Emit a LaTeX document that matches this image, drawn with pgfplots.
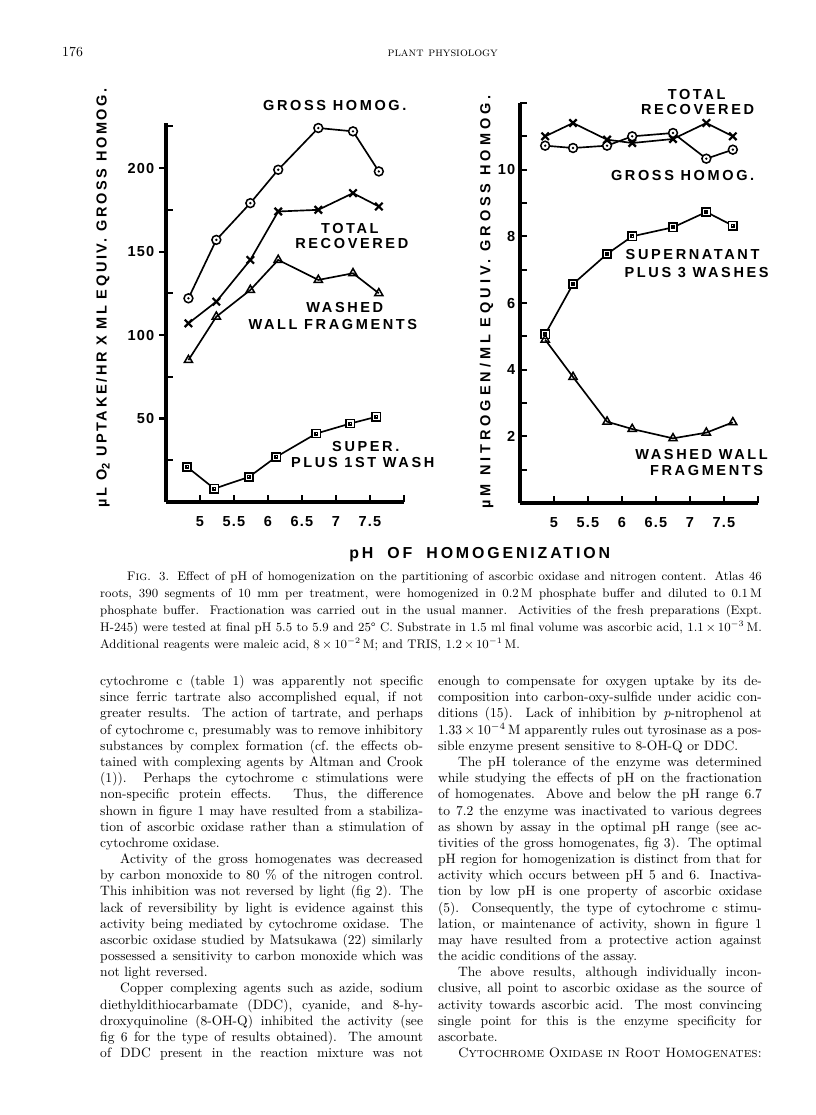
\documentclass[border=0pt]{standalone}
\usepackage{fontspec}
\usepackage{pgfplots}
\pgfplotsset{compat=1.18}

\newfontfamily\lettering[LetterSpace=18]{Liberation Sans}
\newfontfamily\tickfont[LetterSpace=8]{Liberation Sans}
\newcommand\LT{\lettering\bfseries\fontsize{10.5}{12}\selectfont}
\newcommand\TL{\tickfont\bfseries\fontsize{10.5}{12}\selectfont}

\newdimen\px \px=0.01in
\newdimen\colw
\newcommand\JL[1]{\hbox to \colw{#1}}
\newcommand\LL[1]{\hbox to \colw{#1\hfil}}
\newcommand\IN{\hskip 20\px}

% open marks with a dot in the middle
\pgfdeclareplotmark{codot}{%
  \pgfsetfillcolor{white}%
  \pgfpathcircle{\pgfpointorigin}{\pgfplotmarksize}%
  \pgfusepathqfillstroke
  \pgfsetfillcolor{black}%
  \pgfpathcircle{\pgfpointorigin}{0.3\pgfplotmarksize}%
  \pgfusepathqfill}
\pgfdeclareplotmark{sqdot}{%
  \pgfsetfillcolor{white}%
  \pgfpathrectanglecorners{\pgfpoint{-\pgfplotmarksize}{-\pgfplotmarksize}}{\pgfpoint{\pgfplotmarksize}{\pgfplotmarksize}}%
  \pgfusepathqfillstroke
  \pgfpathrectanglecorners{\pgfpoint{-0.3\pgfplotmarksize}{-0.3\pgfplotmarksize}}{\pgfpoint{0.3\pgfplotmarksize}{0.3\pgfplotmarksize}}%
  \pgfusepathqstroke}

\pgfplotsset{
  pageaxis/.style={scale only axis, xmin=4.5, xmax=8, ymin=0,
    axis lines=left, axis line style={-, line width=2.2pt},
    tick style={black, line width=1.5pt}, major tick length=0.07in,
    tick align=inside,
    xtick={5,5.5,6,6.5,7,7.5,8}, xticklabels={5,5.5,6,6.5,7,7.5,},
    tick label style={font=\TL},
    xticklabel style={yshift=-0.09in, text height=7.5pt, text depth=0pt},
    clip=false},
  ser/.style={black, line width=1.2pt, mark options={solid, fill=white, line width=1.1pt}},
}

\begin{document}
\begin{tikzpicture}
\fill[white] (0,0) rectangle (8.16in,-11.15in);
\useasboundingbox (0,0) rectangle (8.16in,-11.15in);

% left panel: O2 uptake
\begin{axis}[pageaxis, at={(1.66in,-5.02in)}, anchor=south west,
  width=2.38in, height=3.79in, ymax=227,
  ytick={25,75,125,175,225}, yticklabels={},
  extra y ticks={50,100,150,200}, extra y tick labels={50,100,150,200},
  extra y tick style={tick align=outside}]
\addplot[ser, mark=codot, mark size=3.2pt] coordinates {(4.83,122)(5.24,157)(5.74,179)(6.15,199)(6.74,224)(7.25,222)(7.63,198)};
\addplot[ser, mark=x, mark size=3.8pt, mark options={line width=1.6pt}] coordinates {(4.83,107)(5.24,120)(5.74,145)(6.15,174)(6.74,175)(7.25,185)(7.63,177)};
\addplot[ser, mark=triangle, mark size=3.4pt] coordinates {(4.83,85)(5.24,111)(5.74,127)(6.15,145)(6.74,133)(7.25,137)(7.63,125)};
\addplot[ser, mark=sqdot, mark size=3pt] coordinates {(4.81,21)(5.21,8)(5.72,15)(6.12,27)(6.71,41)(7.21,47)(7.59,51)};
\end{axis}

% right panel: nitrogen
\begin{axis}[pageaxis, at={(5.20in,-5.03in)}, anchor=south west,
  width=2.38in, height=4.0in, ymax=12,
  ytick={1,2,3,4,5,6,7,8,9,10,11,12}, yticklabels={,2,,4,,6,,8,,10,,}]
\addplot[ser, mark=codot, mark size=3.2pt] coordinates {(4.87,10.72)(5.28,10.65)(5.78,10.72)(6.15,11.0)(6.75,11.1)(7.24,10.33)(7.63,10.6)};
\addplot[ser, mark=x, mark size=3.8pt, mark options={line width=1.6pt}] coordinates {(4.87,11.0)(5.28,11.4)(5.78,10.9)(6.15,10.8)(6.75,10.92)(7.24,11.4)(7.63,11.0)};
\addplot[ser, mark=sqdot, mark size=3pt] coordinates {(4.87,5.06)(5.28,6.57)(5.78,7.47)(6.15,8.0)(6.75,8.27)(7.24,8.73)(7.63,8.32)};
\addplot[ser, mark=triangle, mark size=3.4pt] coordinates {(4.87,4.9)(5.28,3.78)(5.78,2.44)(6.15,2.22)(6.75,1.94)(7.24,2.11)(7.63,2.42)};
\end{axis}

\begin{scope}[x=0.01in, y=-0.01in, every node/.style={inner sep=0pt}]
% running head
\node[anchor=base west] at (62,57) {\fontsize{10}{12}\selectfont 176};
\node[anchor=base] at (443,57) {\fontsize{9}{11}\selectfont\textsc{plant physiology}};

% figure lettering
\node[font=\LT] at (335,106) {GROSS HOMOG.};
\node[font=\LT] at (350,229) {TOTAL};
\node[font=\LT] at (352,244) {RECOVERED};
\node[font=\LT] at (345,308) {WASHED};
\node[font=\LT] at (333,325) {WALL FRAGMENTS};
\node[font=\LT] at (366,447) {SUPER.};
\node[font=\LT] at (363,463) {PLUS 1ST WASH};
\node[font=\LT, rotate=90] at (103,298) {µL O\raisebox{-0.4ex}{\fontsize{8}{9}\selectfont 2} UPTAKE/HR X ML EQUIV. GROSS HOMOG.};

\node[font=\LT] at (697,95) {TOTAL};
\node[font=\LT] at (698,110) {RECOVERED};
\node[font=\LT] at (683,176) {GROSS HOMOG.};
\node[font=\LT] at (693,255) {SUPERNATANT};
\node[font=\LT] at (697,273) {PLUS 3 WASHES};
\node[font=\LT] at (702,455) {WASHED WALL};
\node[font=\LT] at (707,471) {FRAGMENTS};
\node[font=\LT, rotate=90] at (487,302) {\addfontfeature{LetterSpace=27}µM NITROGEN/ML EQUIV. GROSS HOMOG.};

\node[font=\LT] at (480,555) {\fontsize{11.5}{13}\selectfont pH\hskip 14\px OF\hskip 14\px HOMOGENIZATION};

% caption
\node[anchor=base west] at (100,581) {\vtop{\colw=662\px \fontsize{9}{12.29}\selectfont
\JL{\hskip 27\px F\textsc{ig}. 3. Effect of pH of homogenization on the partitioning of ascorbic oxidase and nitrogen content. Atlas 46}
\JL{roots, 390 segments of 10 mm per treatment, were homogenized in 0.2\,M phosphate buffer and diluted to 0.1\,M}
\JL{phosphate buffer. Fractionation was carried out in the usual manner. Activities of the fresh preparations (Expt.}
\JL{H-245) were tested at final pH 5.5 to 5.9 and 25° C. Substrate in 1.5 ml final volume was ascorbic acid, 1.1\,$\times$\,10$^{-3}$\,M.}
\LL{Additional reagents were maleic acid, 8\,$\times$\,10$^{-2}$\,M; and TRIS, 1.2\,$\times$\,10$^{-1}$\,M.}
}};

% left column
\node[anchor=base west] at (100,686) {\vtop{\colw=323\px \fontsize{9.8}{11.69}\selectfont
\JL{cytochrome c (table 1) was apparently not specific}
\JL{since ferric tartrate also accomplished equal, if not}
\JL{greater results. The action of tartrate, and perhaps}
\JL{of cytochrome c, presumably was to remove inhibitory}
\JL{substances by complex formation (cf.\ the effects ob-}
\JL{tained with complexing agents by Altman and Crook}
\JL{(1)). Perhaps the cytochrome c stimulations were}
\JL{non-specific protein effects. Thus, the difference}
\JL{shown in figure 1 may have resulted from a stabiliza-}
\JL{tion of ascorbic oxidase rather than a stimulation of}
\LL{cytochrome oxidase.}
\JL{\IN Activity of the gross homogenates was decreased}
\JL{by carbon monoxide to 80~\% of the nitrogen control.}
\JL{This inhibition was not reversed by light (fig 2). The}
\JL{lack of reversibility by light is evidence against this}
\JL{activity being mediated by cytochrome oxidase. The}
\JL{ascorbic oxidase studied by Matsukawa (22) similarly}
\JL{possessed a sensitivity to carbon monoxide which was}
\LL{not light reversed.}
\JL{\IN Copper complexing agents such as azide, sodium}
\JL{diethyldithiocarbamate (DDC), cyanide, and 8-hy-}
\JL{droxyquinoline (8-OH-Q) inhibited the activity (see}
\JL{fig 6 for the type of results obtained). The amount}
\JL{of DDC present in the reaction mixture was not}
}};

% right column
\node[anchor=base west] at (438,686) {\vtop{\colw=324\px \fontsize{9.8}{11.69}\selectfont
\JL{enough to compensate for oxygen uptake by its de-}
\JL{composition into carbon-oxy-sulfide under acidic con-}
\JL{ditions (15). Lack of inhibition by \textit{p}-nitrophenol at}
\JL{1.33\,$\times$\,10$^{-4}$\,M apparently rules out tyrosinase as a pos-}
\LL{sible enzyme present sensitive to 8-OH-Q or DDC.}
\JL{\IN The pH tolerance of the enzyme was determined}
\JL{while studying the effects of pH on the fractionation}
\JL{of homogenates. Above and below the pH range 6.7}
\JL{to 7.2 the enzyme was inactivated to various degrees}
\JL{as shown by assay in the optimal pH range (see ac-}
\JL{tivities of the gross homogenates, fig 3). The optimal}
\JL{pH region for homogenization is distinct from that for}
\JL{activity which occurs between pH 5 and 6. Inactiva-}
\JL{tion by low pH is one property of ascorbic oxidase}
\JL{(5). Consequently, the type of cytochrome c stimu-}
\JL{lation, or maintenance of activity, shown in figure 1}
\JL{may have resulted from a protective action against}
\LL{the acidic conditions of the assay.}
\JL{\IN The above results, although individually incon-}
\JL{clusive, all point to ascorbic oxidase as the source of}
\JL{activity towards ascorbic acid. The most convincing}
\JL{single point for this is the enzyme specificity for}
\LL{ascorbate.}
\JL{\IN \textsc{Cytochrome Oxidase in Root Homogenates:}}
}};
\end{scope}
\end{tikzpicture}
\end{document}
